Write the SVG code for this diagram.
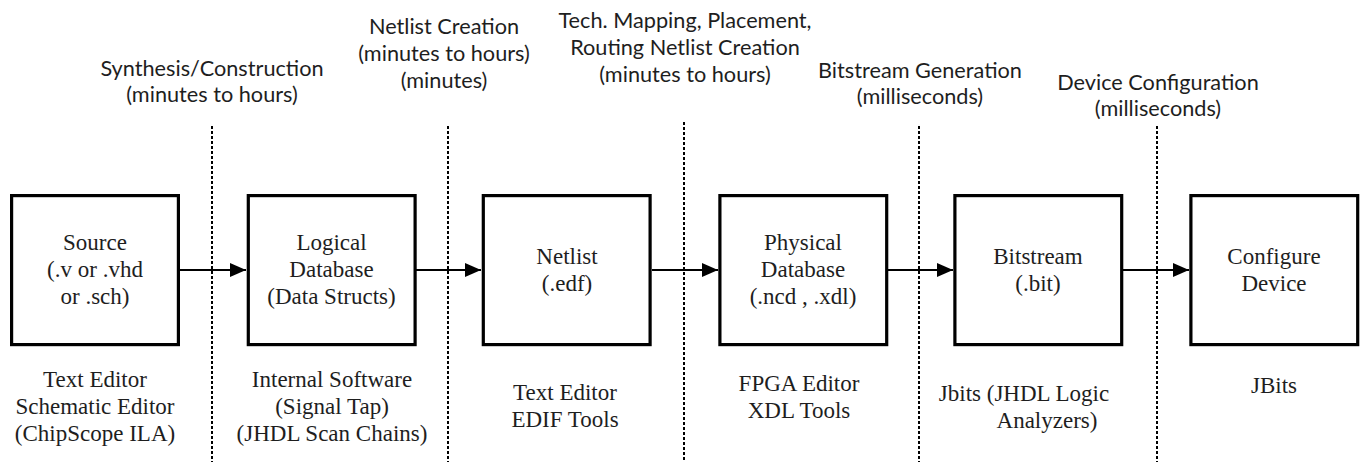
<svg xmlns="http://www.w3.org/2000/svg" width="1364" height="462" viewBox="0 0 1364 462">
<style>
.box{fill:#fff;stroke:#000;stroke-width:3.2}
.serif{font-family:'Liberation Serif','Times New Roman',serif;font-size:23px;fill:#1e1e1e;text-anchor:middle}
.sans{font-family:Lato,'Open Sans',sans-serif;font-size:21.7px;fill:#1e1e1e;text-anchor:middle}
.conn{stroke:#000;stroke-width:2.2;fill:none}
.dot{stroke:#000;stroke-width:2;stroke-dasharray:3 2;fill:none}
</style>
<defs>
<marker id="ah" viewBox="0 0 16 14" refX="16" refY="7" markerWidth="16" markerHeight="14" markerUnits="userSpaceOnUse" orient="auto">
<path d="M0,0 L16,7 L0,14 Z" fill="#000"/>
</marker>
</defs>
<rect width="1364" height="462" fill="#fff"/>
<g id="separators">
<line class="dot" x1="212" y1="126" x2="212" y2="462"/>
<line class="dot" x1="448" y1="126" x2="448" y2="462"/>
<line class="dot" x1="684" y1="122" x2="684" y2="462"/>
<line class="dot" x1="919" y1="126" x2="919" y2="462"/>
<line class="dot" x1="1157" y1="126" x2="1157" y2="462"/>
</g>
<g id="phase-labels">
<text class="sans" x="212" y="76">Synthesis/Construction</text>
<text class="sans" x="212" y="102">(minutes to hours)</text>
<text class="sans" x="444" y="34">Netlist Creation</text>
<text class="sans" x="444" y="61">(minutes to hours)</text>
<text class="sans" x="444" y="88">(minutes)</text>
<text class="sans" x="685" y="28">Tech. Mapping, Placement,</text>
<text class="sans" x="685" y="55">Routing Netlist Creation</text>
<text class="sans" x="685" y="82">(minutes to hours)</text>
<text class="sans" x="920" y="78">Bitstream Generation</text>
<text class="sans" x="920" y="104">(milliseconds)</text>
<text class="sans" x="1158" y="90">Device Configuration</text>
<text class="sans" x="1158" y="116">(milliseconds)</text>
</g>
<g id="connectors">
<line class="conn" x1="180" y1="270" x2="246" y2="270" marker-end="url(#ah)"/>
<line class="conn" x1="416" y1="270" x2="481" y2="270" marker-end="url(#ah)"/>
<line class="conn" x1="652" y1="270" x2="718" y2="270" marker-end="url(#ah)"/>
<line class="conn" x1="887" y1="270" x2="953" y2="270" marker-end="url(#ah)"/>
<line class="conn" x1="1123" y1="270" x2="1189" y2="270" marker-end="url(#ah)"/>
</g>
<g id="source">
<rect class="box" x="11.6" y="195.6" width="166.8" height="149"/>
<text class="serif" x="95" y="250">Source</text>
<text class="serif" x="95" y="277">(.v or .vhd</text>
<text class="serif" x="95" y="304">or .sch)</text>
</g>
<g id="logical-database">
<rect class="box" x="248.3" y="195.6" width="166.8" height="149"/>
<text class="serif" x="331.5" y="250">Logical</text>
<text class="serif" x="331.5" y="277">Database</text>
<text class="serif" x="331.5" y="304">(Data Structs)</text>
</g>
<g id="netlist">
<rect class="box" x="483.3" y="195.6" width="166.8" height="149"/>
<text class="serif" x="567" y="264">Netlist</text>
<text class="serif" x="567" y="291">(.edf)</text>
</g>
<g id="physical-database">
<rect class="box" x="719.9" y="195.6" width="166.8" height="149"/>
<text class="serif" x="803" y="250">Physical</text>
<text class="serif" x="803" y="277">Database</text>
<text class="serif" x="803" y="304">(.ncd , .xdl)</text>
</g>
<g id="bitstream">
<rect class="box" x="954.9" y="195.6" width="166.8" height="149"/>
<text class="serif" x="1038" y="264">Bitstream</text>
<text class="serif" x="1038" y="291">(.bit)</text>
</g>
<g id="configure-device">
<rect class="box" x="1190.9" y="195.6" width="166.8" height="149"/>
<text class="serif" x="1274" y="264">Configure</text>
<text class="serif" x="1274" y="291">Device</text>
</g>
<g id="tool-labels">
<text class="serif" x="95" y="387">Text Editor</text>
<text class="serif" x="95" y="414">Schematic Editor</text>
<text class="serif" x="95" y="441">(ChipScope ILA)</text>
<text class="serif" x="332" y="387">Internal Software</text>
<text class="serif" x="332" y="414">(Signal Tap)</text>
<text class="serif" x="332" y="441">(JHDL Scan Chains)</text>
<text class="serif" x="565" y="400">Text Editor</text>
<text class="serif" x="565" y="427">EDIF Tools</text>
<text class="serif" x="799" y="391">FPGA Editor</text>
<text class="serif" x="799" y="418">XDL Tools</text>
<text class="serif" x="1024" y="401">Jbits (JHDL Logic</text>
<text class="serif" x="1047" y="428">Analyzers)</text>
<text class="serif" x="1274" y="393">JBits</text>
</g>
</svg>
